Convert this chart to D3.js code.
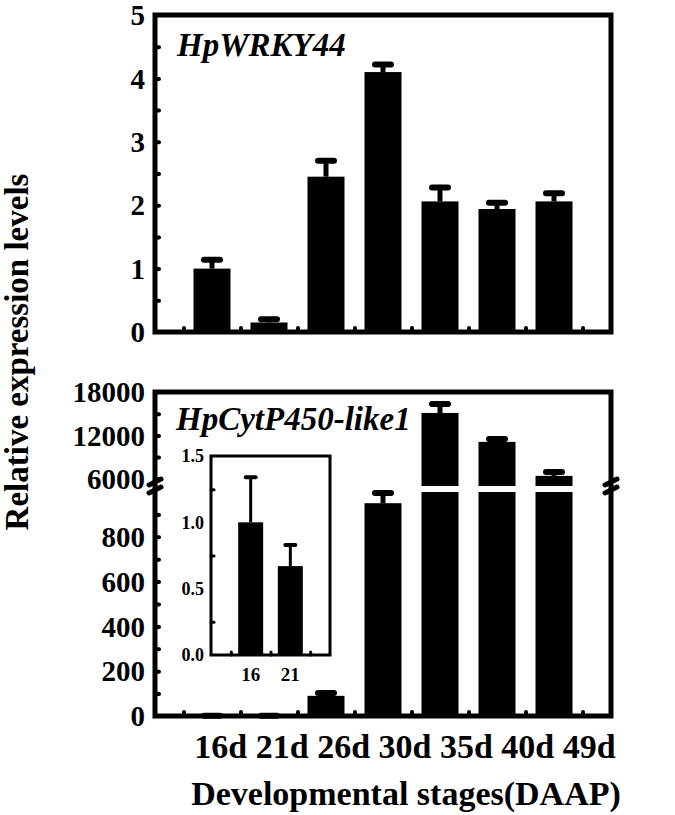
<!DOCTYPE html>
<html>
<head>
<meta charset="utf-8">
<script src="https://cdn.jsdelivr.net/npm/d3@7"></script>
<style>
  body { margin: 0; background: #fff; }
  text { font-family: "Liberation Serif", "Times New Roman", serif; font-weight: bold; fill: #000; }
</style>
</head>
<body>
<div id="chart"></div>
<script>
// Relative expression data
const stages = ['16d', '21d', '26d', '30d', '35d', '40d', '49d'];
const wrkyMean = [1.0, 0.15, 2.45, 4.1, 2.06, 1.94, 2.06];
const wrkyErr = [0.14, 0.05, 0.25, 0.12, 0.22, 0.1, 0.13];
const cytMean = [1.0, 0.67, 90, 950, 15100, 11100, 6400];
const cytErr = [0.34, 0.16, 13, 45, 1250, 400, 550];
const insetLabels = ['16', '21'];
const insetMean = [1.0, 0.67];
const insetErr = [0.34, 0.16];

const wrkyTicks = [0, 1, 2, 3, 4, 5];
const cytLowTicks = [0, 200, 400, 600, 800];
const cytHighTicks = [6000, 12000, 18000];
const insetTicks = [0, 0.5, 1.0, 1.5];

const W = 675, H = 815;
const svg = d3.select('#chart').append('svg').attr('width', W).attr('height', H);

const x = d3.scaleLinear().domain([0, 8]).range([155, 611]);
const barW = 37;
const halfTicks = d3.range(0.5, 8, 1);

function box(x0, y0, x1, y1, sw) {
    svg.append('rect')
        .attr('x', x0).attr('y', y0)
        .attr('width', x1 - x0).attr('height', y1 - y0)
        .attr('fill', 'none').attr('stroke', '#000').attr('stroke-width', sw);
}

// little inward tick bumps
function styleTicks(g, sw) {
    g.select('.domain').remove();
    g.selectAll('.tick line')
        .attr('stroke', '#000')
        .attr('stroke-width', sw)
        .attr('stroke-linecap', 'round');
}

function errorBar(cx, yTop, yBar, capHalf, sw) {
    svg.append('line')
        .attr('x1', cx).attr('x2', cx).attr('y1', yBar).attr('y2', yTop)
        .attr('stroke', '#000').attr('stroke-width', sw);
    svg.append('line')
        .attr('x1', cx - capHalf).attr('x2', cx + capHalf).attr('y1', yTop).attr('y2', yTop)
        .attr('stroke', '#000').attr('stroke-width', sw + 1).attr('stroke-linecap', 'round');
}

// ---------- top panel: HpWRKY44 ----------
const yTop = d3.scaleLinear().domain([0, 5]).range([332, 15]);

wrkyMean.forEach((v, i) => {
    const cx = x(i + 1);
    errorBar(cx, yTop(v + wrkyErr[i]), yTop(v), 8, 5);
    svg.append('rect')
        .attr('x', cx - barW / 2).attr('y', yTop(v))
        .attr('width', barW).attr('height', yTop(0) - yTop(v))
        .attr('fill', '#000');
});

svg.append('g').attr('transform', `translate(${x(0)},0)`)
    .call(d3.axisLeft(yTop).tickValues(d3.range(0.5, 5, 0.5)).tickSize(-4).tickFormat(''))
    .call(g => styleTicks(g, 4));
svg.append('g').attr('transform', `translate(0,${yTop(0)})`)
    .call(d3.axisBottom(x).tickValues(halfTicks).tickSize(-4).tickFormat(''))
    .call(g => styleTicks(g, 4));

svg.append('g').selectAll('text').data(wrkyTicks).join('text')
    .attr('x', 145).attr('y', d => yTop(d)).attr('dy', '0.35em')
    .attr('text-anchor', 'end').attr('font-size', 29)
    .text(d => d);

box(x(0), yTop(5), x(8), yTop(0), 5);

svg.append('text')
    .attr('x', 177).attr('y', 56)
    .attr('font-size', 33).attr('font-style', 'italic')
    .text('HpWRKY44');

// ---------- bottom panel: HpCytP450-like1 (broken axis) ----------
const breakLow = 1000, breakHigh = 5000;
const yLo = d3.scaleLinear().domain([0, breakLow]).range([716, 492]);
const yHi = d3.scaleLinear().domain([breakHigh, 18000]).range([486, 392]);

cytMean.forEach((v, i) => {
    const cx = x(i + 1);
    const top = v + cytErr[i];
    if (v > breakLow) {
        errorBar(cx, yHi(top), yHi(v), 8, 5);
        svg.append('rect')
            .attr('x', cx - barW / 2).attr('y', yHi(v))
            .attr('width', barW).attr('height', yHi(breakHigh) - yHi(v))
            .attr('fill', '#000');
        svg.append('rect')
            .attr('x', cx - barW / 2).attr('y', yLo(breakLow))
            .attr('width', barW).attr('height', yLo(0) - yLo(breakLow))
            .attr('fill', '#000');
    } else {
        errorBar(cx, yLo(top), yLo(v), 8, 5);
        svg.append('rect')
            .attr('x', cx - barW / 2).attr('y', yLo(v))
            .attr('width', barW).attr('height', yLo(0) - yLo(v))
            .attr('fill', '#000');
    }
});

svg.append('g').attr('transform', `translate(${x(0)},0)`)
    .call(d3.axisLeft(yLo).tickValues(d3.range(100, 1000, 100)).tickSize(-4).tickFormat(''))
    .call(g => styleTicks(g, 4));
svg.append('g').attr('transform', `translate(${x(0)},0)`)
    .call(d3.axisLeft(yHi).tickValues([6000, 9000, 12000, 15000]).tickSize(-4).tickFormat(''))
    .call(g => styleTicks(g, 4));
svg.append('g').attr('transform', `translate(0,${yLo(0)})`)
    .call(d3.axisBottom(x).tickValues(halfTicks).tickSize(-4).tickFormat(''))
    .call(g => styleTicks(g, 4));

svg.append('g').selectAll('text').data(cytLowTicks).join('text')
    .attr('x', 145).attr('y', d => yLo(d)).attr('dy', '0.35em')
    .attr('text-anchor', 'end').attr('font-size', 29)
    .text(d => d);
svg.append('g').selectAll('text').data(cytHighTicks).join('text')
    .attr('x', 145).attr('y', d => yHi(d)).attr('dy', '0.35em')
    .attr('text-anchor', 'end').attr('font-size', 29)
    .text(d => d);

box(x(0), yHi(18000), x(8), yLo(0), 5);

// break marks on both vertical axes
[x(0), x(8)].forEach(ax => {
    [482, 490].forEach(by => {
        svg.append('line')
            .attr('x1', ax - 6).attr('x2', ax + 6)
            .attr('y1', by + 3).attr('y2', by - 3)
            .attr('stroke', '#000').attr('stroke-width', 5).attr('stroke-linecap', 'round');
    });
});

svg.append('text')
    .attr('x', 176).attr('y', 430)
    .attr('font-size', 33).attr('font-style', 'italic')
    .text('HpCytP450-like1');

// ---------- inset ----------
const xIn = d3.scaleLinear().domain([0, 3]).range([211, 330]);
const yIn = d3.scaleLinear().domain([0, 1.5]).range([655, 456]);
const barWIn = 25;

insetMean.forEach((v, i) => {
    const cx = xIn(i + 1);
    errorBar(cx, yIn(v + insetErr[i]), yIn(v), 5, 3);
    svg.append('rect')
        .attr('x', cx - barWIn / 2).attr('y', yIn(v))
        .attr('width', barWIn).attr('height', yIn(0) - yIn(v))
        .attr('fill', '#000');
});

svg.append('g').attr('transform', `translate(${xIn(0)},0)`)
    .call(d3.axisLeft(yIn).tickValues([0.25, 0.75, 1.25]).tickSize(-3).tickFormat(''))
    .call(g => styleTicks(g, 3));
svg.append('g').attr('transform', `translate(0,${yIn(0)})`)
    .call(d3.axisBottom(xIn).tickValues([0.5, 1.5, 2.5]).tickSize(-3).tickFormat(''))
    .call(g => styleTicks(g, 3));

svg.append('g').selectAll('text').data(insetTicks).join('text')
    .attr('x', 204).attr('y', d => yIn(d)).attr('dy', '0.35em')
    .attr('text-anchor', 'end').attr('font-size', 18)
    .text(d => d3.format('.1f')(d));
svg.append('g').selectAll('text').data(insetLabels).join('text')
    .attr('x', (d, i) => xIn(i + 1)).attr('y', 681)
    .attr('text-anchor', 'middle').attr('font-size', 19)
    .text(d => d);

box(xIn(0), yIn(1.5), xIn(3), yIn(0), 3);

// ---------- axis titles ----------
svg.append('text')
    .attr('x', 405).attr('y', 758)
    .attr('text-anchor', 'middle').attr('font-size', 34)
    .text(stages.join(' '));

svg.append('text')
    .attr('x', 406).attr('y', 805)
    .attr('text-anchor', 'middle').attr('font-size', 34)
    .text('Developmental stages(DAAP)');

svg.append('text')
    .attr('transform', 'translate(28,352) rotate(-90)')
    .attr('text-anchor', 'middle').attr('font-size', 33)
    .text('Relative expression levels');
</script>
</body>
</html>
